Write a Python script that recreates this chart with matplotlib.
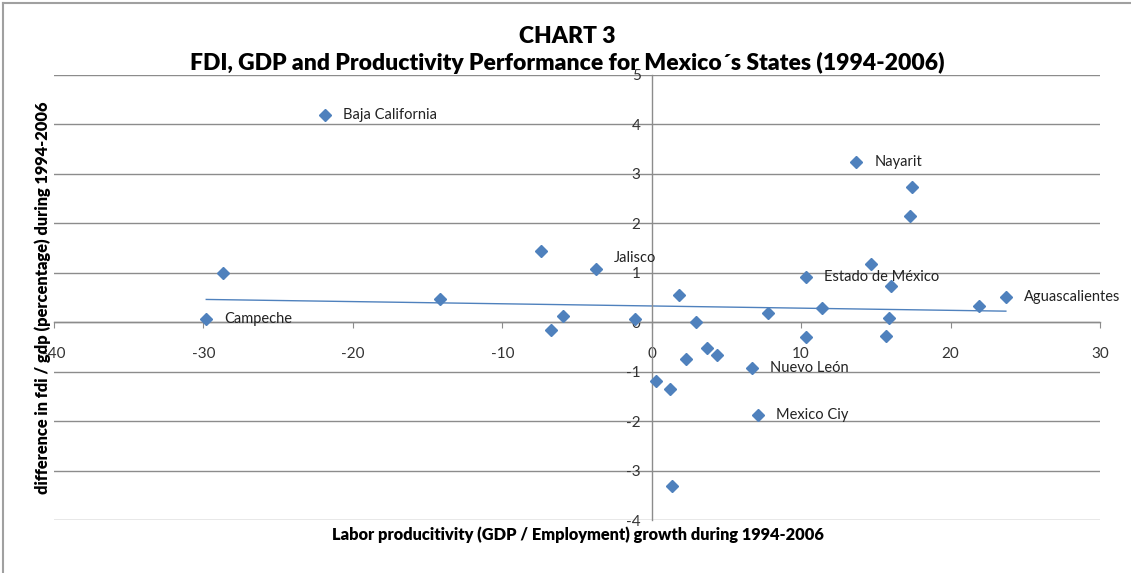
import matplotlib
matplotlib.use("Agg")
import matplotlib.pyplot as plt
import numpy as np
from matplotlib.lines import Line2D

# ---- data ----
productivity_growth = [-21.87, -28.69, -29.81, -14.17, -7.43, -6.76, -5.94, -3.73, -1.12,
                       1.83, 2.99, 2.32, 3.72, 4.35, 0.31, 1.20, 1.38, 6.73, 7.14, 7.80,
                       10.30, 10.30, 11.40, 13.70, 14.70, 17.40, 17.30, 16.00, 15.90, 15.70,
                       21.90, 23.70]
fdi_gdp_diff = [4.20, 1.00, 0.07, 0.47, 1.45, -0.16, 0.12, 1.08, 0.07,
                0.56, 0.01, -0.74, -0.53, -0.66, -1.18, -1.35, -3.31, -0.93, -1.88, 0.19,
                0.91, -0.29, 0.28, 3.25, 1.17, 2.74, 2.14, 0.73, 0.08, -0.28,
                0.32, 0.51]
state_labels = ["Baja California", "", "Campeche", "", "", "", "", "Jalisco", "",
                "", "", "", "", "", "", "", "", "Nuevo León", "Mexico Ciy", "",
                "Estado de México", "", "", "Nayarit", "", "", "", "", "", "",
                "", "Aguascalientes"]
x_ticks = [-40, -30, -20, -10, 0, 10, 20, 30]
y_ticks = [-4, -3, -2, -1, 0, 1, 2, 3, 4, 5]

title_text = "CHART 3\nFDI, GDP and Productivity Performance for Mexico\u00b4s States (1994-2006)"
xlabel_text = "Labor producitivity (GDP / Employment) growth during 1994-2006"
ylabel_text = "difference in fdi / gdp (percentage) during 1994-2006"

# ---- style ----
W, H = 1131, 573
FONT = "Lato"
plt.rcParams["font.family"] = [FONT, "DejaVu Sans"]
plt.rcParams["axes.unicode_minus"] = False
blue = "#4F81BD"
grid_c = "#8C8C8C"

fig = plt.figure(figsize=(W / 100, H / 100), dpi=100)
ax = fig.add_axes([54 / W, 1 - 520 / H, (1100 - 54) / W, (520 - 75) / H])

ax.set_xlim(-40, 30)
ax.set_ylim(-4, 5)
ax.set_xticks(x_ticks)
ax.set_yticks(y_ticks)

for s in ["top", "right"]:
    ax.spines[s].set_visible(False)
ax.spines["left"].set_position(("data", 0))
ax.spines["bottom"].set_position(("data", 0))
for s in ["left", "bottom"]:
    ax.spines[s].set_color(grid_c)
    ax.spines[s].set_linewidth(1.0)

ax.yaxis.grid(True, color=grid_c, linewidth=1.0)
ax.set_axisbelow(True)
ax.tick_params(axis="x", direction="out", length=4, color=grid_c, pad=14,
               labelsize=11, labelcolor="#333333")
ax.tick_params(axis="y", direction="out", length=0, color=grid_c, pad=8,
               labelsize=11, labelcolor="#333333")

# trend line (linear fit over data range)
xs = np.array(productivity_growth)
ys = np.array(fdi_gdp_diff)
m, b = np.polyfit(xs, ys, 1)
xr = np.array([xs.min(), xs.max()])
ax.plot(xr, m * xr + b, color=blue, linewidth=1.0, zorder=2)

ax.plot(xs, ys, linestyle="none", marker="D", markersize=6.5, color=blue,
        markeredgecolor=blue, zorder=3)

offsets = {"Jalisco": (13, 8)}
for x, y, lab in zip(productivity_growth, fdi_gdp_diff, state_labels):
    if not lab:
        continue
    dx, dy = offsets.get(lab, (13, 0))
    ax.annotate(lab, (x, y), xytext=(dx, dy), textcoords="offset points",
                ha="left", va="center", fontsize=10.5, color="#222222")

fig.text(567 / W, 1 - 50 / H, title_text, ha="center", va="center",
         fontsize=16.5, fontweight="heavy", linespacing=1.3)
fig.text(578 / W, 1 - 535 / H, xlabel_text, ha="center", va="center",
         fontsize=11.8, fontweight="heavy")
fig.text(43 / W, 1 - 298 / H, ylabel_text, ha="center", va="center",
         rotation=90, fontsize=11.8, fontweight="heavy")

# chart border (left & top)
fig.add_artist(Line2D([3 / W, 3 / W], [0, 1 - 3 / H], transform=fig.transFigure,
                      color="#A0A0A0", linewidth=1.5))
fig.add_artist(Line2D([3 / W, 1], [1 - 3 / H, 1 - 3 / H], transform=fig.transFigure,
                      color="#A0A0A0", linewidth=1.5))

fig.savefig("out.png", dpi=100, facecolor="white")
